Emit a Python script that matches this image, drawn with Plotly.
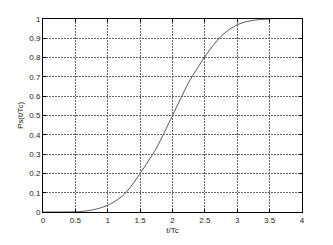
import plotly.graph_objects as go

t_vals = [0, 0.25, 0.5, 0.625, 0.75, 0.875, 1.0, 1.125, 1.25, 1.375, 1.5, 1.625, 1.75, 1.875,
          2.0, 2.125, 2.25, 2.375, 2.5, 2.625, 2.75, 2.875, 3.0, 3.125, 3.25, 3.375, 3.5]
ps_vals = [0, 0, 0.001, 0.004, 0.01, 0.02, 0.035, 0.058, 0.09, 0.14, 0.2, 0.263, 0.33, 0.413,
           0.5, 0.587, 0.672, 0.74, 0.805, 0.862, 0.91, 0.945, 0.97, 0.985, 0.993, 0.998, 1.0]

x_ticks = [0, 0.5, 1, 1.5, 2, 2.5, 3, 3.5, 4]
x_tick_text = ["0", "0.5", "1", "1.5", "2", "2.5", "3", "3.5", "4"]
y_ticks = [0, 0.1, 0.2, 0.3, 0.4, 0.5, 0.6, 0.7, 0.8, 0.9, 1]
y_tick_text = ["0", "0.1", "0.2", "0.3", "0.4", "0.5", "0.6", "0.7", "0.8", "0.9", "1"]

fig = go.Figure()
fig.add_trace(go.Scatter(x=t_vals, y=ps_vals, mode="lines",
                         line=dict(color="#555555", width=1, shape="spline", smoothing=0.8),
                         showlegend=False, hoverinfo="skip"))

font = dict(family="Liberation Sans, Arial, sans-serif", size=8, color="#222222")
axis_common = dict(showline=True, linecolor="#000000", linewidth=1, mirror="ticks",
                   ticks="inside", ticklen=3, tickcolor="#000000",
                   showgrid=True, gridcolor="#666666", gridwidth=1, griddash="2px,1px",
                   zeroline=False, tickfont=font)

fig.update_xaxes(range=[0, 4], tickvals=x_ticks, ticktext=x_tick_text,
                 title=dict(text="t/Tc", font=font, standoff=3), **axis_common)
fig.update_yaxes(range=[0, 1], tickvals=y_ticks, ticktext=y_tick_text,
                 title=dict(text="Ps(t/Tc)", font=font, standoff=4), **axis_common)

fig.update_layout(width=333, height=245, margin=dict(l=43, r=31, t=19, b=27),
                  paper_bgcolor="white", plot_bgcolor="white", font=font)

fig.write_html("out.html")
